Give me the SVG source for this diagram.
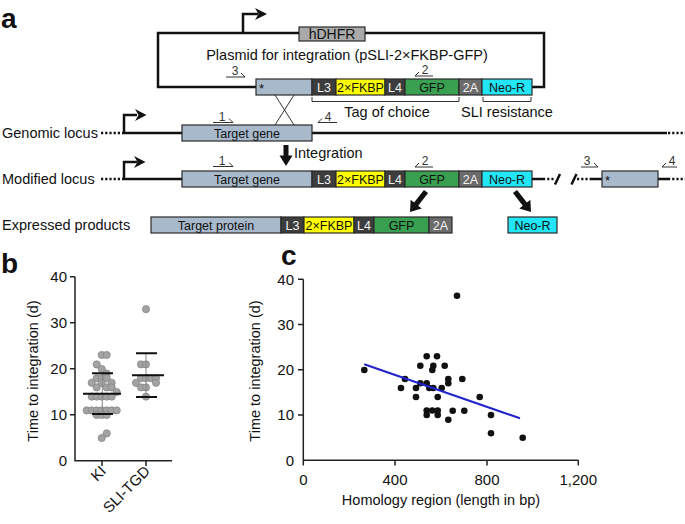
<svg xmlns="http://www.w3.org/2000/svg" width="685" height="524" viewBox="0 0 685 524">
<style>
text{font-family:"Liberation Sans",Arial,Helvetica,sans-serif;fill:#111}
.pl{font-size:28px;font-weight:bold}
.lb{font-size:14.5px}
.bt{font-size:12.5px;text-anchor:middle}
.wt{fill:#f2f2f2}
.pr{font-size:12px;text-anchor:middle;fill:#333}
.tk{font-size:15px}
.dna{stroke:#111;stroke-width:2.5;fill:none}
.dot{stroke:#111;stroke-width:2.5;fill:none;stroke-dasharray:2.2 2}
.bx{stroke:#2a2a2a;stroke-width:1.2}
.tg{fill:#a7b9cb}.lk{fill:#3d3d3d}.fk{fill:#ffff00}.gf{fill:#38a050}.ta{fill:#6b6b6b}.ne{fill:#22e6f5}
.thin{stroke:#333;stroke-width:1;fill:none}
.ax{stroke:#222;stroke-width:1.5;fill:none}
.gp{fill:#a3a3a3;stroke:#888;stroke-width:0.8}
.bp{fill:#111}
</style>
<defs>
<path id="darr" d="M-2.6,-26 H2.6 V-10 H7 L0,0 L-7,-10 H-2.6 Z" fill="#111"/>
</defs>

<!-- panel labels -->
<text class="pl" x="1" y="28">a</text>
<text class="pl" x="1" y="273">b</text>
<text class="pl" x="281" y="265" font-size="27">c</text>

<!-- Plasmid -->
<g id="plasmid">
<path class="dna" d="M299,33 H158 V87 H256"/>
<path class="dna" d="M365,33 H544 V87 H532"/>
<path class="dna" d="M243,33 V14 H258"/>
<path d="M255,8 L267,14 L255,20 L258.5,14 Z" fill="#111"/>
<rect class="bx" x="299" y="27" width="66" height="14" fill="#aaaaaa"/>
<text x="332" y="39" font-size="14" text-anchor="middle">hDHFR</text>
<text class="lb" x="347" y="60" text-anchor="middle">Plasmid for integration (pSLI-2×FKBP-GFP)</text>
<rect class="bx tg" x="256" y="79" width="56" height="16"/>
<text x="259" y="93" font-size="13">*</text>
<rect class="bx lk" x="312" y="79" width="24" height="16"/><text class="bt wt" x="324" y="91.5">L3</text>
<rect class="bx fk" x="336" y="79" width="49" height="16"/><text class="bt" x="360.5" y="91.5">2×FKBP</text>
<rect class="bx lk" x="385" y="79" width="20" height="16"/><text class="bt wt" x="395" y="91.5">L4</text>
<rect class="bx gf" x="405" y="79" width="54" height="16"/><text class="bt" x="432" y="91.5">GFP</text>
<rect class="bx ta" x="459" y="79" width="23" height="16"/><text class="bt wt" x="470.5" y="91.5">2A</text>
<rect class="bx ne" x="482" y="79" width="50" height="16"/><text class="bt" x="507" y="91.5">Neo-R</text>
<!-- primers -->
<path class="thin" d="M226,77 H245 L241,73"/><text class="pr" x="235" y="75">3</text>
<path class="thin" d="M433,76 H415 L419,72"/><text class="pr" x="425" y="74">2</text>
<!-- brackets -->
<path class="thin" d="M312,97 V101.5 H459 V97"/>
<path class="thin" d="M483,97 V101.5 H531 V97"/>
<text class="lb" x="387" y="117" text-anchor="middle">Tag of choice</text>
<text class="lb" x="507" y="117" text-anchor="middle">SLI resistance</text>
</g>

<g id="crossover">
<path class="thin" d="M275,95 L294,125 M294,95 L275,125" stroke="#111"/>
</g>

<!-- Genomic locus -->
<g id="genomic">
<text class="lb" x="2" y="138">Genomic locus</text>
<path class="dot" d="M101,133 H122"/>
<path class="dna" d="M122,133 H182 M312,133 H667"/>
<path class="dot" d="M668,133 H685"/>
<path class="dna" d="M124,133 V115 H137"/>
<path d="M135,109 L146.5,115 L135,121 L138.5,115 Z" fill="#111"/>
<rect class="bx tg" x="182" y="125" width="130" height="16"/>
<text class="bt" x="247" y="137.5">Target gene</text>
<path class="thin" d="M213,122.5 H233 L229,118.5"/><text class="pr" x="222" y="121">1</text>
<path class="thin" d="M337,122.5 H318 L322,118.5"/><text class="pr" x="328" y="121">4</text>
</g>

<!-- Integration arrow -->
<g id="integration">
<path d="M283.5,145 H288.5 V155.5 H292.5 L286,166 L279.5,155.5 H283.5 Z" fill="#111"/>
<text class="lb" x="294" y="158">Integration</text>
</g>

<!-- Modified locus -->
<g id="modified">
<text class="lb" x="2" y="184">Modified locus</text>
<path class="dot" d="M101,179 H122"/>
<path class="dna" d="M122,179 H182"/>
<path class="dna" d="M124,179 V162 H137"/>
<path d="M134,156 L145.5,162 L134,168 L137.5,162 Z" fill="#111"/>
<rect class="bx tg" x="182" y="171" width="130" height="16"/><text class="bt" x="247" y="183.5">Target gene</text>
<rect class="bx lk" x="312" y="171" width="24" height="16"/><text class="bt wt" x="324" y="183.5">L3</text>
<rect class="bx fk" x="336" y="171" width="49" height="16"/><text class="bt" x="360.5" y="183.5">2×FKBP</text>
<rect class="bx lk" x="385" y="171" width="20" height="16"/><text class="bt wt" x="395" y="183.5">L4</text>
<rect class="bx gf" x="405" y="171" width="54" height="16"/><text class="bt" x="432" y="183.5">GFP</text>
<rect class="bx ta" x="459" y="171" width="23" height="16"/><text class="bt wt" x="470.5" y="183.5">2A</text>
<rect class="bx ne" x="482" y="171" width="50" height="16"/><text class="bt" x="507" y="183.5">Neo-R</text>
<path class="dna" d="M532,179 H543"/>
<path class="dot" d="M543,179 H554"/>
<path class="dna" d="M555,184.5 L560,174 M571.5,184.5 L576.5,174"/>
<path class="dot" d="M577,179 H590"/>
<path class="dna" d="M590,179 H602 M658,179 H668"/>
<path class="dot" d="M668,179 H685"/>
<rect class="bx tg" x="602" y="171" width="56" height="16"/>
<text x="605" y="185" font-size="13">*</text>
<path class="thin" d="M213,166.5 H233 L229,162.5"/><text class="pr" x="222" y="165">1</text>
<path class="thin" d="M433,167 H415 L419,163"/><text class="pr" x="425" y="165">2</text>
<path class="thin" d="M581,167 H598 L594,163"/><text class="pr" x="587" y="165">3</text>
<path class="thin" d="M677,167 H662 L666,163"/><text class="pr" x="672" y="165">4</text>
</g>

<!-- Expressed products -->
<g id="expressed">
<text class="lb" x="2" y="230">Expressed products</text>
<rect class="bx tg" x="151" y="217" width="130" height="16"/><text class="bt" x="216" y="229.5">Target protein</text>
<rect class="bx lk" x="281" y="217" width="23" height="16"/><text class="bt wt" x="292.5" y="229.5">L3</text>
<rect class="bx fk" x="304" y="217" width="50" height="16"/><text class="bt" x="329" y="229.5">2×FKBP</text>
<rect class="bx lk" x="354" y="217" width="20" height="16"/><text class="bt wt" x="364" y="229.5">L4</text>
<rect class="bx gf" x="374" y="217" width="55" height="16"/><text class="bt" x="401.5" y="229.5">GFP</text>
<rect class="bx ta" x="429" y="217" width="23" height="16"/><text class="bt wt" x="440.5" y="229.5">2A</text>
<rect class="bx ne" x="508" y="217" width="49" height="16"/><text class="bt" x="532.5" y="229.5">Neo-R</text>
</g>
<g id="connectors">
<use href="#darr" transform="translate(410,212) rotate(38)"/>
<use href="#darr" transform="translate(531,212) rotate(-38)"/>
</g>

<!-- Panel b -->
<g id="panel-b">
<path class="ax" d="M70,276.7 H75 M70,322.7 H75 M70,368.7 H75 M70,414.7 H75 M75,276.7 V460.7 H172 M102,460.7 V466 M146,460.7 V466"/>
<g class="tk" text-anchor="end">
<text x="67" y="282">40</text><text x="67" y="328">30</text><text x="67" y="374">20</text><text x="67" y="420">10</text><text x="67" y="466">0</text>
</g>
<text class="lb" transform="translate(38,371) rotate(-90)" text-anchor="middle">Time to integration (d)</text>
<text class="tk" transform="translate(107,472) rotate(-45)" text-anchor="end">KI</text>
<text class="tk" transform="translate(151,472) rotate(-45)" text-anchor="end">SLI-TGD</text>
<g class="gp">
<circle cx="101.7" cy="355" r="3.6"/><circle cx="106.7" cy="355" r="3.6"/>
<circle cx="96.7" cy="364.4" r="3.6"/><circle cx="101.7" cy="369" r="3.6"/>
<circle cx="106.7" cy="373.5" r="3.6"/>
<circle cx="96.7" cy="378.2" r="3.6"/><circle cx="101.7" cy="378.2" r="3.6"/><circle cx="106.7" cy="378.2" r="3.6"/>
<circle cx="91.7" cy="382.8" r="3.6"/><circle cx="101.7" cy="382.8" r="3.6"/><circle cx="111.7" cy="382.8" r="3.6"/>
<circle cx="96.7" cy="387.4" r="3.6"/><circle cx="106.7" cy="387.4" r="3.6"/><circle cx="111.7" cy="387.4" r="3.6"/>
<circle cx="116.7" cy="392" r="3.6"/>
<circle cx="91.7" cy="396.6" r="3.6"/><circle cx="96.7" cy="396.6" r="3.6"/><circle cx="101.7" cy="396.6" r="3.6"/><circle cx="106.7" cy="396.6" r="3.6"/><circle cx="111.7" cy="396.6" r="3.6"/>
<circle cx="86.7" cy="410.4" r="3.6"/><circle cx="91.7" cy="410.4" r="3.6"/><circle cx="96.7" cy="410.4" r="3.6"/><circle cx="101.7" cy="410.4" r="3.6"/><circle cx="106.7" cy="410.4" r="3.6"/><circle cx="111.7" cy="410.4" r="3.6"/><circle cx="116.7" cy="410.4" r="3.6"/>
<circle cx="96.7" cy="415" r="3.6"/><circle cx="101.7" cy="415" r="3.6"/><circle cx="106.7" cy="415" r="3.6"/>
<circle cx="106.7" cy="433.4" r="3.6"/><circle cx="101.7" cy="438" r="3.6"/>
<circle cx="146" cy="309.2" r="3.6"/>
<circle cx="141" cy="364.4" r="3.6"/><circle cx="146" cy="364.4" r="3.6"/>
<circle cx="141" cy="378.2" r="3.6"/><circle cx="146" cy="378.2" r="3.6"/><circle cx="151" cy="378.2" r="3.6"/><circle cx="156" cy="378.2" r="3.6"/>
<circle cx="136" cy="382.8" r="3.6"/><circle cx="156" cy="382.8" r="3.6"/>
<circle cx="141" cy="387.4" r="3.6"/><circle cx="146" cy="387.4" r="3.6"/>
<circle cx="146" cy="396.6" r="3.6"/>
</g>
<path d="M102.3,373.3 V414 M146,353.3 V397" stroke="#888" stroke-width="1"/>
<path d="M83,393.7 H121 M92,373.3 H113 M92,414 H113 M132,375.3 H164 M136,353.3 H157 M136,397 H157" stroke="#111" stroke-width="2"/>
</g>

<!-- Panel c -->
<g id="panel-c">
<path class="ax" d="M298,279.3 H303.3 M298,324.6 H303.3 M298,369.8 H303.3 M298,415 H303.3 M303.3,279.3 V460.3 H578.3 M395,460.3 V465.5 M487,460.3 V465.5 M578.3,460.3 V465.5 M303.3,460.3 V465.5"/>
<g class="tk" text-anchor="end">
<text x="294" y="285">40</text><text x="294" y="330">30</text><text x="294" y="375">20</text><text x="294" y="420">10</text><text x="294" y="465.5">0</text>
</g>
<g class="tk" text-anchor="middle">
<text x="303.3" y="485">0</text><text x="395" y="485">400</text><text x="487" y="485">800</text><text x="578.3" y="485">1,200</text>
</g>
<text class="lb" transform="translate(260,371) rotate(-90)" text-anchor="middle">Time to integration (d)</text>
<text class="lb" x="441" y="505" text-anchor="middle">Homology region (length in bp)</text>
<g class="bp">
<circle cx="364.3" cy="370" r="3.3"/><circle cx="401" cy="388" r="3.3"/><circle cx="405" cy="379" r="3.3"/>
<circle cx="416" cy="388" r="3.3"/><circle cx="416" cy="397" r="3.3"/><circle cx="420.3" cy="365.7" r="3.3"/>
<circle cx="420.3" cy="383.3" r="3.3"/><circle cx="426.7" cy="356.3" r="3.3"/><circle cx="426.7" cy="383.3" r="3.3"/>
<circle cx="426.7" cy="410.5" r="3.3"/><circle cx="426.7" cy="415" r="3.3"/><circle cx="429.3" cy="388" r="3.3"/>
<circle cx="432.3" cy="370" r="3.3"/><circle cx="433.3" cy="365.7" r="3.3"/><circle cx="433.3" cy="388" r="3.3"/>
<circle cx="432.3" cy="410.5" r="3.3"/><circle cx="437" cy="356.3" r="3.3"/><circle cx="437.7" cy="397" r="3.3"/>
<circle cx="437.7" cy="410.5" r="3.3"/><circle cx="437.7" cy="415" r="3.3"/><circle cx="441.7" cy="388" r="3.3"/>
<circle cx="444.7" cy="365.7" r="3.3"/><circle cx="448.3" cy="379" r="3.3"/><circle cx="448.3" cy="383.3" r="3.3"/>
<circle cx="448.3" cy="419.7" r="3.3"/><circle cx="452.7" cy="410.7" r="3.3"/><circle cx="457" cy="295.7" r="3.3"/>
<circle cx="462.3" cy="379" r="3.3"/><circle cx="464.3" cy="410.7" r="3.3"/><circle cx="479.7" cy="397" r="3.3"/>
<circle cx="491" cy="415" r="3.3"/><circle cx="491" cy="433.3" r="3.3"/><circle cx="522.7" cy="437.7" r="3.3"/>
</g>
<path d="M364.3,364.3 L520,418.3" stroke="#2323cc" stroke-width="2"/>
</g>
</svg>
